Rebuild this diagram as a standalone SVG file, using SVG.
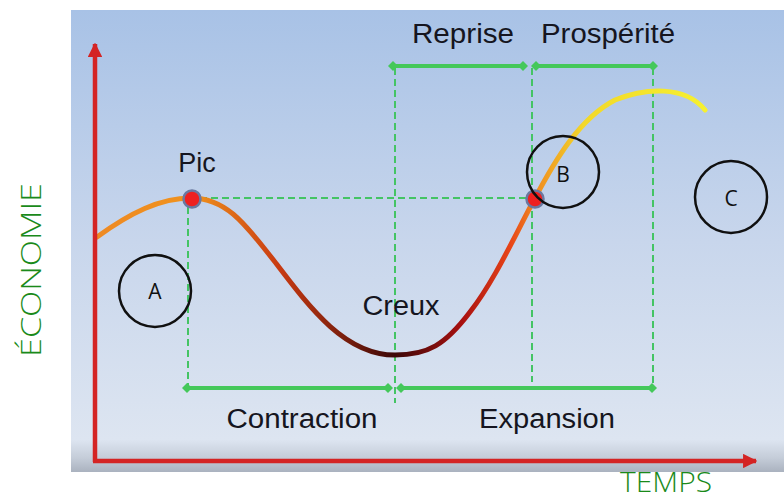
<svg xmlns="http://www.w3.org/2000/svg" width="784" height="499" viewBox="0 0 784 499">
<defs>
<linearGradient id="bg" x1="0" y1="10" x2="0" y2="472" gradientUnits="userSpaceOnUse">
<stop offset="0" stop-color="#a8c2e6"/>
<stop offset="0.5" stop-color="#c8d6ec"/>
<stop offset="0.93" stop-color="#dde5f1"/>
<stop offset="0.97" stop-color="#c4ccd8"/>
<stop offset="1" stop-color="#aab2bf"/>
</linearGradient>
<linearGradient id="curve" x1="97" y1="0" x2="705" y2="0" gradientUnits="userSpaceOnUse">
<stop offset="0" stop-color="#ee8a24"/>
<stop offset="0.16" stop-color="#f0921c"/>
<stop offset="0.3" stop-color="#c83a12"/>
<stop offset="0.49" stop-color="#3c0808"/>
<stop offset="0.6" stop-color="#a81010"/>
<stop offset="0.68" stop-color="#e84418"/>
<stop offset="0.72" stop-color="#f08a20"/>
<stop offset="0.8" stop-color="#f2d82a"/>
<stop offset="1" stop-color="#f6f030"/>
</linearGradient>
<marker id="ah" viewBox="0 0 10 10" refX="9" refY="5" markerWidth="3.2" markerHeight="3.2" orient="auto" markerUnits="strokeWidth">
<path d="M0,0 L10,5 L0,10 Z" fill="#d42424"/>
</marker>
<marker id="dm" viewBox="-5 -5 10 10" markerWidth="10" markerHeight="10" markerUnits="userSpaceOnUse" orient="0">
<path d="M0,-5 L5,0 L0,5 L-5,0 Z" fill="#44c85a"/>
</marker>
</defs>
<style>
.dash{stroke:#44c464;stroke-width:2;stroke-dasharray:7 4;fill:none}
.solid{stroke:#44c85a;stroke-width:4;fill:none;marker-start:url(#dm);marker-end:url(#dm)}
.lbl{font-family:"Liberation Sans",Arial,sans-serif;font-size:27px;fill:#151520}
.ring{fill:none;stroke:#101010;stroke-width:2.5}
.ltr{font-family:"Open Sans","DejaVu Sans",sans-serif;font-size:21px;fill:#101010;text-anchor:middle}
.axtxt{font-family:"Open Sans","DejaVu Sans",sans-serif;font-weight:300;font-size:28px;fill:#1a8a1a}
.dot{fill:#ee2020;stroke:#6a78a0;stroke-width:2.5}
</style>
<rect x="71" y="10" width="713" height="462" fill="url(#bg)"/>

<g id="connectors">
<line class="dash" x1="200" y1="198" x2="527" y2="198"/>
<line class="dash" x1="188" y1="207" x2="188" y2="387"/>
<line class="dash" x1="395" y1="68" x2="395" y2="403"/>
<line class="dash" x1="532" y1="68" x2="532" y2="382"/>
<line class="dash" x1="653" y1="68" x2="653" y2="387"/>
<line class="solid" x1="393" y1="66" x2="523" y2="66"/>
<line class="solid" x1="536" y1="66" x2="653" y2="66"/>
<line class="solid" x1="187" y1="388" x2="388" y2="388"/>
<line class="solid" x1="401" y1="388" x2="652" y2="388"/>
<path d="M97,237 C130,213 160,198 191,198 C228,198 248,228 275,262 C310,308 345,355 395,355 C428,355 445,345 470,312 C495,280 515,235 534,200 C555,160 580,118 615,100 C645,88 685,85 705,110" fill="none" stroke="url(#curve)" stroke-width="5" stroke-linecap="round"/>
<line x1="95" y1="462" x2="95" y2="44" stroke="#d42424" stroke-width="4.5" marker-end="url(#ah)"/>
<line x1="93" y1="461" x2="756" y2="461" stroke="#d42424" stroke-width="4.5" marker-end="url(#ah)"/>
</g>

<g id="pic"><circle class="dot" cx="192" cy="199" r="8.5"/><text class="lbl" x="197" y="172" text-anchor="middle">Pic</text></g>
<g id="pointB"><circle class="dot" cx="535" cy="199" r="8.5"/></g>
<g id="creux"><text class="lbl" x="401" y="315" text-anchor="middle" textLength="77" lengthAdjust="spacingAndGlyphs">Creux</text></g>
<g id="reprise"><text class="lbl" x="463" y="43" text-anchor="middle" textLength="102" lengthAdjust="spacingAndGlyphs">Reprise</text></g>
<g id="prosperite"><text class="lbl" x="608" y="43" text-anchor="middle" textLength="134" lengthAdjust="spacingAndGlyphs">Prospérité</text></g>
<g id="contraction"><text class="lbl" x="302" y="428" text-anchor="middle" textLength="151" lengthAdjust="spacingAndGlyphs">Contraction</text></g>
<g id="expansion"><text class="lbl" x="547" y="428" text-anchor="middle" textLength="136" lengthAdjust="spacingAndGlyphs">Expansion</text></g>

<g id="circleA"><circle class="ring" cx="155" cy="291" r="36"/><text class="ltr" x="155" y="299">A</text></g>
<g id="circleB"><circle class="ring" cx="563" cy="172" r="36"/><text class="ltr" x="563" y="182">B</text></g>
<g id="circleC"><circle class="ring" cx="731" cy="197" r="36"/><text class="ltr" x="731" y="206">C</text></g>

<g id="temps"><text class="axtxt" x="666" y="492" text-anchor="middle" textLength="92" lengthAdjust="spacingAndGlyphs">TEMPS</text></g>
<g id="economie"><text class="axtxt" transform="translate(41,270) rotate(-90)" x="0" y="0" text-anchor="middle" textLength="174" lengthAdjust="spacingAndGlyphs">ÉCONOMIE</text></g>
</svg>
